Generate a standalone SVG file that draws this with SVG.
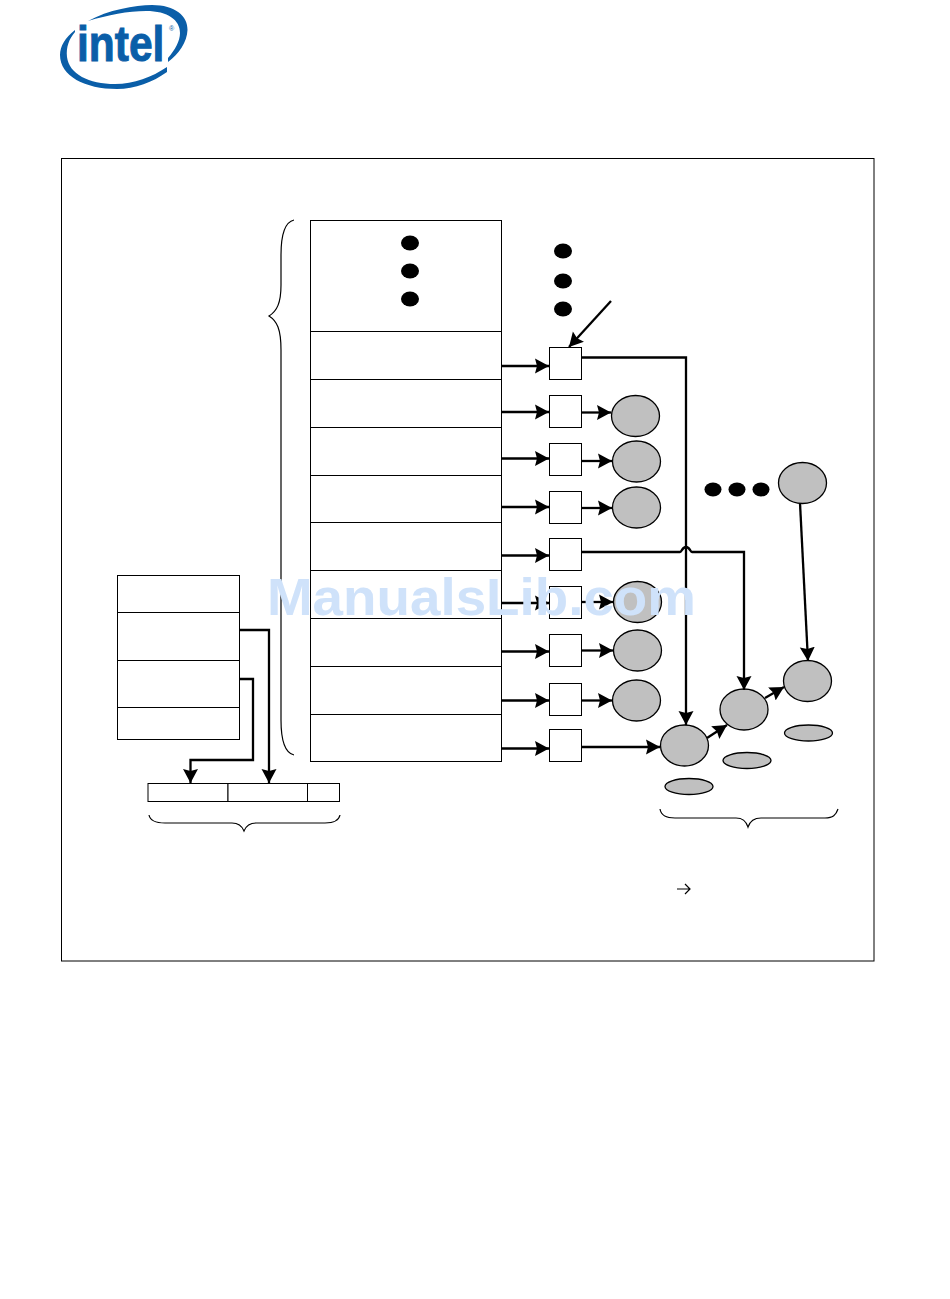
<svg xmlns="http://www.w3.org/2000/svg" width="950" height="1299" viewBox="0 0 950 1299">
<style>
.box{fill:#fff;stroke:#000;stroke-width:1}
.disc{fill:#c0c0c0;stroke:#000;stroke-width:1.300}
.dot{fill:#000;stroke:none}
.c{fill:none;stroke:#000;stroke-width:2.300}
.b{fill:none;stroke:#000;stroke-width:1.200}
.logo{fill:#0a5ea8;stroke:none}
</style>
<defs>
<marker id="a" markerUnits="userSpaceOnUse" markerWidth="16" markerHeight="16" refX="14" refY="8" orient="auto"><path d="M0 0.500L14 8L0 15.500L2 8Z" fill="#000"/></marker>
</defs>
<rect width="950" height="1299" fill="#fff"/>
<g id="logo">
<path class="logo" d="M88 21C108 10 135 5 152 5C175 5 188 16 187.500 30C187 42 179 54 168 62L168 58C175 50 180 41 180 33C180 20 168 11 146 11C128 11 108 15 88 21Z"/>
<path class="logo" d="M75 30C65 38 60 46 60 55C60 76 85 89 117 89C135 89 153 82 167 72L167 67C152 77 134 84 115 84C89 84 69 74 67 57C66 47 69 39 75 32Z"/>
<text transform="translate(77 61) scale(0.850 1)" font-family="Liberation Sans, sans-serif" font-weight="bold" font-size="50" fill="#0a5ea8" stroke="#0a5ea8" stroke-width="1">intel</text>
<text x="169" y="31" font-family="Liberation Sans, sans-serif" font-size="7" fill="#0a5ea8">®</text>
</g>
<rect id="frame" x="61.500" y="158.500" width="812.500" height="802.500" fill="none" stroke="#000" stroke-width="1"/>
<g id="main-table">
<rect class="box" x="310.500" y="220.500" width="191" height="111"/>
<rect class="box" x="310.500" y="331.500" width="191" height="48"/>
<rect class="box" x="310.500" y="379.500" width="191" height="48"/>
<rect class="box" x="310.500" y="427.500" width="191" height="48"/>
<rect class="box" x="310.500" y="475.500" width="191" height="47"/>
<rect class="box" x="310.500" y="522.500" width="191" height="48"/>
<rect class="box" x="310.500" y="570.500" width="191" height="48"/>
<rect class="box" x="310.500" y="618.500" width="191" height="48"/>
<rect class="box" x="310.500" y="666.500" width="191" height="48"/>
<rect class="box" x="310.500" y="714.500" width="191" height="47"/>
</g>
<g id="dots">
<ellipse class="dot" cx="410" cy="243" rx="9" ry="7.500"/>
<ellipse class="dot" cx="410" cy="271" rx="9" ry="7.500"/>
<ellipse class="dot" cx="410" cy="299" rx="9" ry="7.500"/>
<ellipse class="dot" cx="563" cy="251" rx="9" ry="7.500"/>
<ellipse class="dot" cx="563" cy="281" rx="9" ry="7.500"/>
<ellipse class="dot" cx="563" cy="309" rx="9" ry="7.500"/>
<ellipse class="dot" cx="713" cy="489.500" rx="8.500" ry="7"/>
<ellipse class="dot" cx="737" cy="489.500" rx="8.500" ry="7"/>
<ellipse class="dot" cx="761" cy="489.500" rx="8.500" ry="7"/>
</g>
<g id="squares">
<rect class="box" x="549.500" y="347.500" width="32" height="32"/>
<rect class="box" x="549.500" y="395.500" width="32" height="32"/>
<rect class="box" x="549.500" y="443.500" width="32" height="32"/>
<rect class="box" x="549.500" y="491.500" width="32" height="32"/>
<rect class="box" x="549.500" y="538.500" width="32" height="32"/>
<rect class="box" x="549.500" y="586.500" width="32" height="32"/>
<rect class="box" x="549.500" y="634.500" width="32" height="32"/>
<rect class="box" x="549.500" y="683.500" width="32" height="32"/>
<rect class="box" x="549.500" y="729.500" width="32" height="32"/>
</g>
<g id="circles">
<ellipse class="disc" cx="635.500" cy="416" rx="24" ry="20.500"/>
<ellipse class="disc" cx="636.500" cy="461.500" rx="24" ry="20.500"/>
<ellipse class="disc" cx="636.500" cy="507.500" rx="24" ry="20.500"/>
<ellipse class="disc" cx="637.500" cy="602" rx="24" ry="20.500"/>
<ellipse class="disc" cx="637.500" cy="650.500" rx="24" ry="20.500"/>
<ellipse class="disc" cx="636.500" cy="700.500" rx="24" ry="20.500"/>
<ellipse class="disc" cx="684.500" cy="745.500" rx="24" ry="20.500"/>
<ellipse class="disc" cx="744" cy="709.500" rx="24" ry="20.500"/>
<ellipse class="disc" cx="807.500" cy="681" rx="24" ry="20.500"/>
<ellipse class="disc" cx="802.500" cy="483" rx="24" ry="20.500"/>
<ellipse class="disc" cx="689" cy="786.500" rx="24" ry="8"/>
<ellipse class="disc" cx="747" cy="760.500" rx="24" ry="8"/>
<ellipse class="disc" cx="808.500" cy="733" rx="24" ry="8"/>
</g>
<g id="left-table">
<rect class="box" x="117.500" y="575.500" width="122" height="37"/>
<rect class="box" x="117.500" y="612.500" width="122" height="48"/>
<rect class="box" x="117.500" y="660.500" width="122" height="47"/>
<rect class="box" x="117.500" y="707.500" width="122" height="32"/>
</g>
<g id="bottom-bar">
<rect class="box" x="148" y="783.500" width="80" height="18"/>
<rect class="box" x="228" y="783.500" width="79.500" height="18"/>
<rect class="box" x="307.500" y="783.500" width="32" height="18"/>
</g>
<g id="connectors">
<path class="c" marker-end="url(#a)" d="M501 366H549"/>
<path class="c" marker-end="url(#a)" d="M501 412H549"/>
<path class="c" marker-end="url(#a)" d="M501 458.500H549"/>
<path class="c" marker-end="url(#a)" d="M501 507H549"/>
<path class="c" marker-end="url(#a)" d="M501 555.500H549"/>
<path class="c" marker-end="url(#a)" d="M501 603H549"/>
<path class="c" marker-end="url(#a)" d="M501 651.500H549"/>
<path class="c" marker-end="url(#a)" d="M501 700.500H549"/>
<path class="c" marker-end="url(#a)" d="M501 748.500H549"/>
<path class="c" marker-end="url(#a)" d="M581 412.500H611"/>
<path class="c" marker-end="url(#a)" d="M581 461H612"/>
<path class="c" marker-end="url(#a)" d="M581 508H612"/>
<path class="c" marker-end="url(#a)" d="M581 602H613"/>
<path class="c" marker-end="url(#a)" d="M581 650.500H613"/>
<path class="c" marker-end="url(#a)" d="M581 700.500H612"/>
<path class="c" marker-end="url(#a)" d="M611 301L569 347"/>
<path class="c" marker-end="url(#a)" d="M581 357.500H686V725"/>
<path class="c" marker-end="url(#a)" d="M581 552H680C682 552 682 547 686 547C690 547 690 552 692 552H744V690"/>
<path class="c" marker-end="url(#a)" d="M581 747H660"/>
<path class="c" marker-end="url(#a)" d="M707 738L727 725"/>
<path class="c" marker-end="url(#a)" d="M765 698L784 687"/>
<path class="c" marker-end="url(#a)" d="M800 503L808 661"/>
<path class="c" marker-end="url(#a)" d="M240 630H269V783"/>
<path class="c" marker-end="url(#a)" d="M240 679H253V760H190.500V783"/>
</g>
<g id="braces">
<path class="b" d="M294 220C285 222 281 236 281 255V285C281 303 277 311 269 316C277 321 281 329 281 350V720C281 742 285 753 294 755"/>
<path class="b" d="M149 815C150 820 155 823 165 823H232C238 823 242 826 244 831C246 826 250 823 256 823H325C335 823 339 820 340 815"/>
<path class="b" d="M660 809C661 815 666 818 675 818H736C743 818 746 821 748 827C750 821 754 818 761 818H825C833 818 836 815 838 809"/>
</g>
<path id="small-arrow" d="M677 889H690M685 884L690 889L685 894" fill="none" stroke="#000" stroke-width="1.200"/>
<text id="watermark" x="267" y="615" font-family="Liberation Sans, sans-serif" font-weight="bold" font-size="52" fill="#cfe2fa" textLength="429" lengthAdjust="spacingAndGlyphs">ManualsLib.com</text>
</svg>
